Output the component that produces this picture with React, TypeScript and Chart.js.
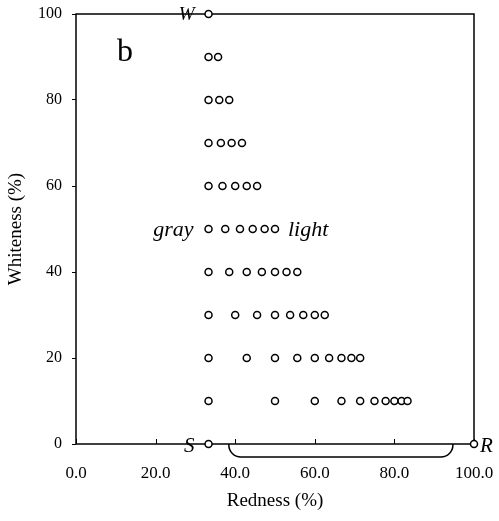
import React, { useEffect, useRef } from 'react';
import { Chart, registerables } from 'chart.js';

Chart.register(...registerables);

// Axis ticks
const xTickValues = [0, 20, 40, 60, 80, 100];
const yTickValues = [0, 20, 40, 60, 80, 100];

// Whiteness level of each row (%)
const whitenessLevels = [100, 90, 80, 70, 60, 50, 40, 30, 20, 10, 0];

// Redness (%) of the points in each row
const redness100 = [33.3];
const redness90 = [33.3, 35.7];
const redness80 = [33.3, 36.0, 38.5];
const redness70 = [33.3, 36.4, 39.1, 41.7];
const redness60 = [33.3, 36.8, 40.0, 42.9, 45.5];
const redness50 = [33.3, 37.5, 41.2, 44.4, 47.4, 50.0];
const redness40 = [33.3, 38.5, 42.9, 46.7, 50.0, 52.9, 55.6];
const redness30 = [33.3, 40.0, 45.5, 50.0, 53.8, 57.1, 60.0, 62.5];
const redness20 = [33.3, 42.9, 50.0, 55.6, 60.0, 63.6, 66.7, 69.2, 71.4];
const redness10 = [33.3, 50.0, 60.0, 66.7, 71.4, 75.0, 77.8, 80.0, 81.8, 83.3];
const redness0 = [33.3, 100.0];

const rednessRows = [
  redness100, redness90, redness80, redness70, redness60, redness50,
  redness40, redness30, redness20, redness10, redness0,
];

// Range marked by the brace under the x axis (Redness %)
const braceRange = [38.4, 94.7];

const SERIF = '"Liberation Serif", "DejaVu Serif", serif';

const decorPlugin = {
  id: 'decor',
  beforeDatasetsDraw(chart: any) {
    const { ctx, chartArea: a, scales } = chart;
    const x = scales.x;
    const y = scales.y;
    ctx.save();
    ctx.strokeStyle = '#000';
    ctx.lineWidth = 1.5;
    ctx.strokeRect(a.left, a.top, a.right - a.left, a.bottom - a.top);
    // inward x tick marks
    ctx.lineWidth = 1;
    x.ticks.forEach((t: any) => {
      const px = Math.round(x.getPixelForValue(t.value)) + 0.5;
      ctx.beginPath();
      ctx.moveTo(px, a.bottom);
      ctx.lineTo(px, a.bottom - 5);
      ctx.stroke();
    });
    // brace
    const bx1 = x.getPixelForValue(braceRange[0]);
    const bx2 = x.getPixelForValue(braceRange[1]);
    const by = y.getPixelForValue(0);
    const depth = 13;
    const r = 12;
    ctx.lineWidth = 1.5;
    ctx.beginPath();
    ctx.moveTo(bx1, by);
    ctx.arcTo(bx1, by + depth, bx1 + r, by + depth, r);
    ctx.lineTo(bx2 - r, by + depth);
    ctx.arcTo(bx2, by + depth, bx2, by, r);
    ctx.lineTo(bx2, by);
    ctx.stroke();
    ctx.restore();
  },
  afterDatasetsDraw(chart: any) {
    const { ctx, chartArea: a, scales } = chart;
    const x = scales.x;
    const y = scales.y;
    ctx.save();
    ctx.fillStyle = '#000';
    // panel letter
    ctx.font = `32px ${SERIF}`;
    ctx.textAlign = 'center';
    ctx.textBaseline = 'alphabetic';
    ctx.fillText('b', a.left + 49, a.top + 47);

    ctx.textBaseline = 'middle';
    ctx.textAlign = 'right';
    ctx.font = `italic 19px ${SERIF}`;
    ctx.fillText('W', x.getPixelForValue(33.3) - 14, y.getPixelForValue(100) + 1);
    ctx.font = `italic 21px ${SERIF}`;
    ctx.fillText('S', x.getPixelForValue(33.3) - 14, y.getPixelForValue(0) + 2);
    ctx.font = `italic 22px ${SERIF}`;
    ctx.fillText('gray', x.getPixelForValue(33.3) - 15, y.getPixelForValue(50) + 1);
    ctx.textAlign = 'left';
    ctx.fillText('light', x.getPixelForValue(50) + 13, y.getPixelForValue(50) + 1);
    ctx.font = `italic 21px ${SERIF}`;
    ctx.fillText('R', x.getPixelForValue(100) + 6, y.getPixelForValue(0) + 2);
    ctx.restore();
  },
};

export default function App() {
  const canvasRef = useRef<HTMLCanvasElement | null>(null);

  useEffect(() => {
    const canvas = canvasRef.current;
    if (!canvas) return;
    const points = rednessRows.flatMap((row, i) =>
      row.map((r) => ({ x: r, y: whitenessLevels[i] }))
    );
    const chart = new Chart(canvas, {
      type: 'scatter',
      data: {
        datasets: [
          {
            label: 'mixtures',
            data: points,
            pointRadius: 3.5,
            pointHoverRadius: 3.5,
            pointBorderWidth: 1.5,
            borderColor: '#000',
            backgroundColor: '#fff',
            pointBackgroundColor: '#fff',
            pointBorderColor: '#000',
            clip: false as any,
          },
        ],
      },
      options: {
        animation: false,
        responsive: false,
        devicePixelRatio: 1,
        layout: { padding: { left: 0, right: 25, top: 14, bottom: 0 } },
        plugins: {
          legend: { display: false },
          tooltip: { enabled: false },
        },
        scales: {
          x: {
            type: 'linear',
            min: 0,
            max: 100,
            afterBuildTicks: (scale: any) => {
              scale.ticks = xTickValues.map((v) => ({ value: v }));
            },
            afterFit: (scale: any) => {
              scale.height = 77;
              scale.paddingLeft = 0;
              scale.paddingRight = 0;
            },
            grid: { display: false, drawTicks: false },
            border: { display: false },
            ticks: {
              color: '#000',
              padding: 19,
              font: { family: SERIF, size: 17 },
              callback: (v: any) => Number(v).toFixed(1),
              maxRotation: 0,
            },
            title: {
              display: true,
              text: 'Redness (%)',
              color: '#000',
              font: { family: SERIF, size: 19 },
              padding: { top: 0, bottom: 9 },
            },
          },
          y: {
            type: 'linear',
            min: 0,
            max: 100,
            afterBuildTicks: (scale: any) => {
              scale.ticks = yTickValues.map((v) => ({ value: v }));
            },
            afterFit: (scale: any) => {
              scale.width = 76;
              scale.paddingTop = 0;
              scale.paddingBottom = 0;
            },
            grid: {
              drawOnChartArea: false,
              drawTicks: true,
              tickLength: 4,
              color: '#000',
              lineWidth: 1,
            },
            border: { display: false },
            ticks: {
              color: '#000',
              padding: 10,
              font: { family: SERIF, size: 16 },
            },
            title: {
              display: true,
              text: 'Whiteness (%)',
              color: '#000',
              font: { family: SERIF, size: 19 },
              padding: { top: 5, bottom: 0 },
            },
          },
        },
      },
      plugins: [decorPlugin],
    });
    return () => chart.destroy();
  }, []);

  return (
    <div style={{ position: 'absolute', left: 0, top: 0, width: 499, height: 521 }}>
      <canvas ref={canvasRef} width={499} height={521} style={{ display: 'block' }} />
    </div>
  );
}
